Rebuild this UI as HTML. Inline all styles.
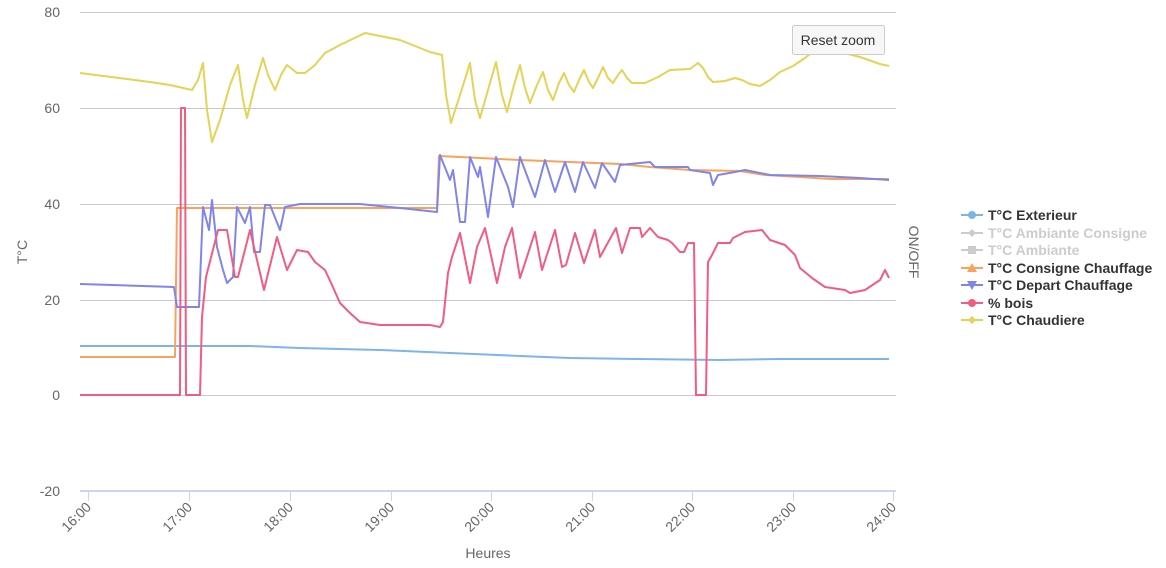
<!DOCTYPE html>
<html><head><meta charset="utf-8"><style>
body{margin:0;background:#fff;width:1166px;height:563px;overflow:hidden;font-family:"Liberation Sans",sans-serif}
</style></head><body>
<svg width="1166" height="563" xmlns="http://www.w3.org/2000/svg" font-family="Liberation Sans, sans-serif">
<g stroke="#c8c8c8" stroke-width="1">
<line x1="80" x2="896" y1="12.5" y2="12.5"/><line x1="80" x2="896" y1="108.5" y2="108.5"/>
<line x1="80" x2="896" y1="204.5" y2="204.5"/><line x1="80" x2="896" y1="300.5" y2="300.5"/>
<line x1="80" x2="896" y1="395.5" y2="395.5"/>
</g>
<line x1="80" x2="896" y1="491" y2="491" stroke="#ccd6eb" stroke-width="2"/>
<g stroke="#ccd6eb"><line x1="88.5" x2="88.5" y1="491" y2="501"/><line x1="189.5" x2="189.5" y1="491" y2="501"/><line x1="290.5" x2="290.5" y1="491" y2="501"/><line x1="391.5" x2="391.5" y1="491" y2="501"/><line x1="491.5" x2="491.5" y1="491" y2="501"/><line x1="592.5" x2="592.5" y1="491" y2="501"/><line x1="692.5" x2="692.5" y1="491" y2="501"/><line x1="793.5" x2="793.5" y1="491" y2="501"/><line x1="893.5" x2="893.5" y1="491" y2="501"/></g>
<g fill="#666" font-size="14" text-anchor="end">
<text x="60" y="17">80</text><text x="60" y="113">60</text><text x="60" y="209">40</text><text x="60" y="305">20</text><text x="60" y="400">0</text><text x="60" y="496">-20</text>
</g>
<g fill="#666" font-size="14" text-anchor="end">
<text transform="translate(92,508) rotate(-45)">16:00</text>
<text transform="translate(193,508) rotate(-45)">17:00</text>
<text transform="translate(294,508) rotate(-45)">18:00</text>
<text transform="translate(395,508) rotate(-45)">19:00</text>
<text transform="translate(495,508) rotate(-45)">20:00</text>
<text transform="translate(596,508) rotate(-45)">21:00</text>
<text transform="translate(696,508) rotate(-45)">22:00</text>
<text transform="translate(797,508) rotate(-45)">23:00</text>
<text transform="translate(897,508) rotate(-45)">24:00</text>
</g>
<text x="488" y="558" fill="#666" font-size="14" text-anchor="middle">Heures</text>
<text transform="translate(27,252) rotate(-90)" fill="#666" font-size="14" text-anchor="middle">T°C</text>
<text transform="translate(909,252) rotate(90)" fill="#666" font-size="14" text-anchor="middle">ON/OFF</text>
<g fill="none" stroke-width="2" stroke-linejoin="round">
<polyline stroke="#7cb5ec" points="80,346 250,346 300,348 380,350 450,353 520,356 570,358 640,359 720,360 780,359 889,359"/>
<polyline stroke="#f7a35c" points="80,357 175,357 177,208 437,208 439,156 480,158 520,160 570,162 620,164 650,167 690,170 740,171 765,175 800,177 830,179 889,179"/>
<polyline stroke="#8085e9" points="80,284 174,287 177,307 199,307 203,207 209,230 212,200 217,247 223,270 227,283 233,277 237,207 245,223 250,207 254,252 260,252 265,205 270,205 280,230 285,207 300,204 360,204 400,208 437,212 440,155 450,180 453,170 460,222 465,222 470,157 478,177 480,167 488,217 496,157 508,187 513,207 520,157 535,197 545,160 555,192 565,162 575,192 583,162 595,188 602,163 615,182 620,165 650,162 655,167 688,167 690,170 710,173 713,185 718,175 735,172 745,170 770,175 820,176 860,178 889,180"/>
<polyline stroke="#f15c80" points="80,395 180,395 181,108 185,108 186,395 200,395 202,317 206,277 218,230 227,230 235,277 238,277 250,230 264,290 277,237 287,270 297,250 308,252 315,262 325,270 332,285 340,303 350,313 360,322 380,325 430,325 440,327 443,322 448,273 452,257 460,233 470,283 477,247 485,228 497,283 505,247 512,228 520,278 525,263 535,232 542,270 555,230 562,267 566,265 575,233 584,263 595,230 600,257 616,228 622,253 630,228 640,228 642,237 650,228 658,237 668,240 672,243 680,252 684,252 688,243 694,243 696,395 706,395 708,262 712,255 718,243 730,243 733,238 745,232 762,230 770,240 785,245 795,255 800,268 812,278 825,287 845,290 850,293 865,290 880,280 885,270 889,278"/>
<polyline stroke="#e4d354" points="80,73 150,82 170,85 192,90 198,80 203,63 207,110 212,142 220,120 230,85 238,65 243,100 247,118 255,85 263,58 268,75 275,90 281,75 287,65 297,73 305,73 315,65 325,53 340,45 365,33 400,40 430,52 442,55 446,95 451,123 460,95 470,63 475,100 480,118 488,90 496,62 502,95 507,112 514,85 520,65 525,88 530,103 537,85 543,72 548,90 553,100 559,83 564,73 569,85 574,92 579,80 584,70 589,82 593,88 598,78 603,67 608,78 613,83 618,75 622,70 627,78 632,83 645,83 658,77 670,70 690,69 698,63 703,68 708,77 713,82 725,81 735,78 742,80 750,84 760,86 770,80 780,72 793,66 805,58 815,50 840,52 860,57 880,64 889,66"/>
</g>
<rect x="792.5" y="25.5" width="92" height="29" rx="2" fill="#f7f7f7" stroke="#cccccc"/>
<text x="838" y="45" font-size="14" fill="#333" text-anchor="middle">Reset zoom</text>
<g font-size="14" font-weight="bold">
<line x1="961" x2="983" y1="215" y2="215" stroke="#7cb5ec" stroke-width="2"/><circle cx="972" cy="215" r="4" fill="#7cb5ec"/><text x="988" y="220" fill="#333">T°C Exterieur</text>
<line x1="961" x2="983" y1="233" y2="233" stroke="#ccc" stroke-width="2"/><path d="M972 229 L976 233 L972 237 L968 233Z" fill="#ccc"/><text x="988" y="238" fill="#ccc">T°C Ambiante Consigne</text>
<line x1="961" x2="983" y1="250" y2="250" stroke="#ccc" stroke-width="2"/><rect x="968" y="246" width="8" height="8" fill="#ccc"/><text x="988" y="255" fill="#ccc">T°C Ambiante</text>
<line x1="961" x2="983" y1="268" y2="268" stroke="#f7a35c" stroke-width="2"/><path d="M972 263 L977 272 L967 272Z" fill="#f7a35c"/><text x="988" y="273" fill="#333">T°C Consigne Chauffage</text>
<line x1="961" x2="983" y1="285" y2="285" stroke="#8085e9" stroke-width="2"/><path d="M967 281 L977 281 L972 290Z" fill="#8085e9"/><text x="988" y="290" fill="#333">T°C Depart Chauffage</text>
<line x1="961" x2="983" y1="303" y2="303" stroke="#f15c80" stroke-width="2"/><circle cx="972" cy="303" r="4" fill="#f15c80"/><text x="988" y="308" fill="#333">% bois</text>
<line x1="961" x2="983" y1="320" y2="320" stroke="#e4d354" stroke-width="2"/><path d="M972 316 L976 320 L972 324 L968 320Z" fill="#e4d354"/><text x="988" y="325" fill="#333">T°C Chaudiere</text>
</g>
</svg>
</body></html>
